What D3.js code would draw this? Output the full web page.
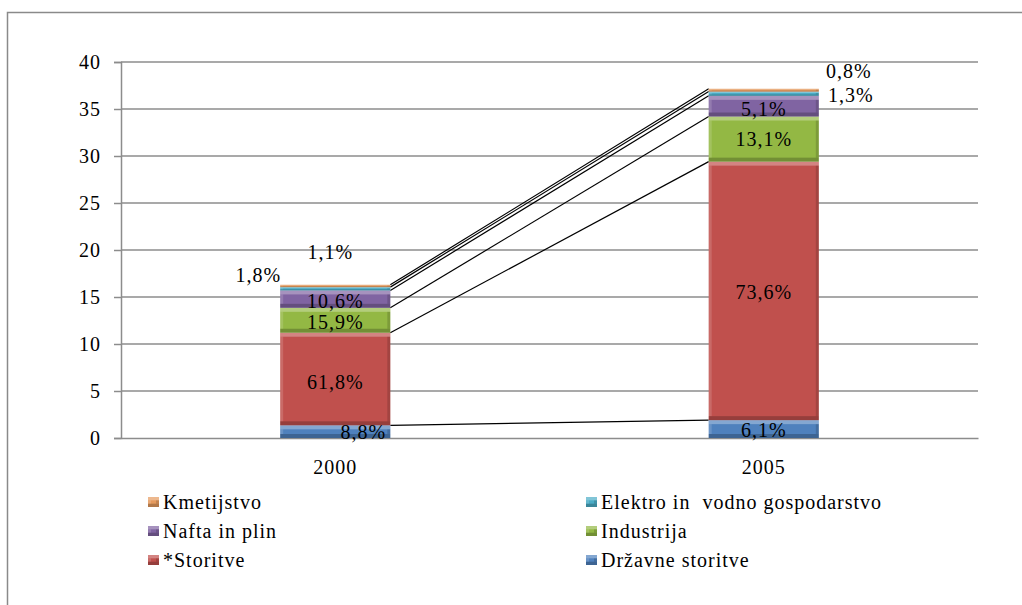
<!DOCTYPE html>
<html>
<head>
<meta charset="utf-8">
<script src="https://cdn.jsdelivr.net/npm/d3@7"></script>
<style>
  body { margin: 0; background: #fff; }
  svg text { font-family: "Liberation Serif", "Times New Roman", Tinos, serif !important; fill: #000; }
</style>
</head>
<body>
<div id="chart"></div>
<script>
// data (stack order: bottom -> top)
var years = ["2000", "2005"];
var sectors = ["Državne storitve", "*Storitve", "Industrija", "Nafta in plin",
               "Elektro in  vodno gospodarstvo", "Kmetijstvo"];
var values2000 = [1.35, 9.85, 2.65, 1.85, 0.35, 0.25];
var values2005 = [1.9, 27.5, 4.8, 2.2, 0.45, 0.3];
var shares2000 = ["8,8%", "61,8%", "15,9%", "10,6%", "1,8%", "1,1%"];
var shares2005 = ["6,1%", "73,6%", "13,1%", "5,1%", "1,3%", "0,8%"];
var yTicks = [0, 5, 10, 15, 20, 25, 30, 35, 40];
var legendOrder = ["Kmetijstvo", "Elektro in  vodno gospodarstvo", "Nafta in plin",
                   "Industrija", "*Storitve", "Državne storitve"];

var colors = ["#4F81BD", "#C0504D", "#93B844", "#8064A2", "#4BACC6", "#E59A5E"];

// label nudges (px) from the segment middle
var labelShift = {
  "2000": [[28, 0], [0, 3], [0, 2], [0, 2], [-77, -14], [-5, -34]],
  "2005": [[0, 1], [0, 1], [0, 0], [0, 3], [87, 1], [85, -19]]
};

var FONT = "'Liberation Serif', 'Times New Roman', Tinos, serif";
var W = 1022, H = 605;
var margin = {top: 62, left: 121, right: 44, bottom: 167};
var width = W - margin.left - margin.right,
    height = H - margin.top - margin.bottom;

var svg = d3.select("#chart").append("svg")
  .attr("width", W)
  .attr("height", H)
  .style("font-family", FONT);

// frame (only top and left edges are visible)
svg.append("path")
  .attr("d", "M7.5," + H + "V12.5H" + W)
  .attr("fill", "none")
  .attr("stroke", "#8a8a8a")
  .attr("stroke-width", 1.5);

var chartArea = svg.append("g")
  .attr("transform", "translate(" + margin.left + "," + margin.top + ")");

var x = d3.scaleBand().domain(years).range([0, width])
  .paddingInner(0.743).paddingOuter(0.3715);
var y = d3.scaleLinear().domain([0, 40]).range([height, 0]);

// gridlines
chartArea.append("g").selectAll("line")
  .data(yTicks.slice(1))
  .enter().append("line")
  .attr("x1", 0).attr("x2", width)
  .attr("y1", function(d) { return y(d); })
  .attr("y2", function(d) { return y(d); })
  .attr("stroke", "#8c8c8c")
  .attr("stroke-width", 1.5);

// y axis
var yAxis = chartArea.append("g")
  .call(d3.axisLeft(y).tickValues(yTicks).tickSize(7).tickPadding(13));
yAxis.attr("font-family", null).attr("font-size", null);
yAxis.select(".domain").attr("stroke", "#8c8c8c").attr("stroke-width", 1.5);
yAxis.selectAll(".tick line").attr("stroke", "#8c8c8c").attr("stroke-width", 1.5);
yAxis.selectAll(".tick text")
  .style("font-family", FONT)
  .style("font-size", "20px")
  .style("letter-spacing", "1px")
  .attr("fill", "#000");

// x axis
var xAxis = chartArea.append("g")
  .attr("transform", "translate(0," + height + ")")
  .call(d3.axisBottom(x).tickSize(0).tickPadding(22));
xAxis.attr("font-family", null).attr("font-size", null);
xAxis.select(".domain").attr("stroke", "#8c8c8c").attr("stroke-width", 1.5);
xAxis.selectAll(".tick text")
  .style("font-family", FONT)
  .style("font-size", "20px")
  .style("letter-spacing", "1px")
  .attr("fill", "#000");

// stacked data
var rows = years.map(function(yr, i) {
  var vals = i === 0 ? values2000 : values2005;
  var row = {year: yr};
  sectors.forEach(function(s, j) { row[s] = vals[j]; });
  return row;
});
var stacked = d3.stack().keys(sectors)(rows);

// series lines between the bars
var lineGroup = chartArea.append("g");
stacked.forEach(function(layer) {
  lineGroup.append("line")
    .attr("x1", x("2000") + x.bandwidth())
    .attr("y1", y(layer[0][1]))
    .attr("x2", x("2005"))
    .attr("y2", y(layer[1][1]))
    .attr("stroke", "#000")
    .attr("stroke-width", 1.2);
});

// bevelled rect: base fill + thin light/dark edges
function bevel(g, bx, by, bw, bh, c) {
  var e = Math.min(4, bh / 3);
  g.append("rect").attr("x", bx).attr("y", by).attr("width", bw).attr("height", bh)
    .attr("fill", c);
  g.append("rect").attr("x", bx).attr("y", by).attr("width", bw).attr("height", e)
    .attr("fill", "#fff").attr("opacity", 0.3);
  g.append("rect").attr("x", bx).attr("y", by + bh - e).attr("width", bw).attr("height", e)
    .attr("fill", "#000").attr("opacity", 0.22);
  g.append("rect").attr("x", bx).attr("y", by + e).attr("width", 3).attr("height", Math.max(0, bh - 2 * e))
    .attr("fill", "#fff").attr("opacity", 0.15);
  g.append("rect").attr("x", bx + bw - 3).attr("y", by + e).attr("width", 3).attr("height", Math.max(0, bh - 2 * e))
    .attr("fill", "#000").attr("opacity", 0.15);
}

// bars
var layers = chartArea.selectAll(".layer")
  .data(stacked)
  .enter().append("g")
  .attr("class", "layer");

layers.each(function(layer, j) {
  var g = d3.select(this);
  layer.forEach(function(d) {
    bevel(g, x(d.data.year), y(d[1]), x.bandwidth(), y(d[0]) - y(d[1]), colors[j]);
  });
});

// data labels
stacked.forEach(function(layer, j) {
  layer.forEach(function(d, i) {
    var yr = d.data.year;
    var txt = i === 0 ? shares2000[j] : shares2005[j];
    var shift = labelShift[yr][j];
    chartArea.append("text")
      .attr("x", x(yr) + x.bandwidth() / 2 + shift[0])
      .attr("y", y((d[0] + d[1]) / 2) + shift[1])
      .attr("dy", "0.35em")
      .attr("text-anchor", "middle")
      .style("font-family", FONT)
      .style("font-size", "20px")
      .style("letter-spacing", "1px")
      .text(txt);
  });
});

// legend (two columns)
var legend = svg.append("g");
legendOrder.forEach(function(name, k) {
  var col = k % 2, row = Math.floor(k / 2);
  var lx = col === 0 ? 148 : 586;
  var ly = 502 + row * 29;
  var c = colors[sectors.indexOf(name)];
  bevel(legend, lx, ly - 5, 11, 10, c);
  legend.append("text")
    .attr("x", lx + 15)
    .attr("y", ly)
    .attr("dy", "0.35em")
    .style("font-family", FONT)
    .style("font-size", "20px")
    .style("letter-spacing", "1px")
    .style("white-space", "pre")
    .text(name);
});
</script>
</body>
</html>
